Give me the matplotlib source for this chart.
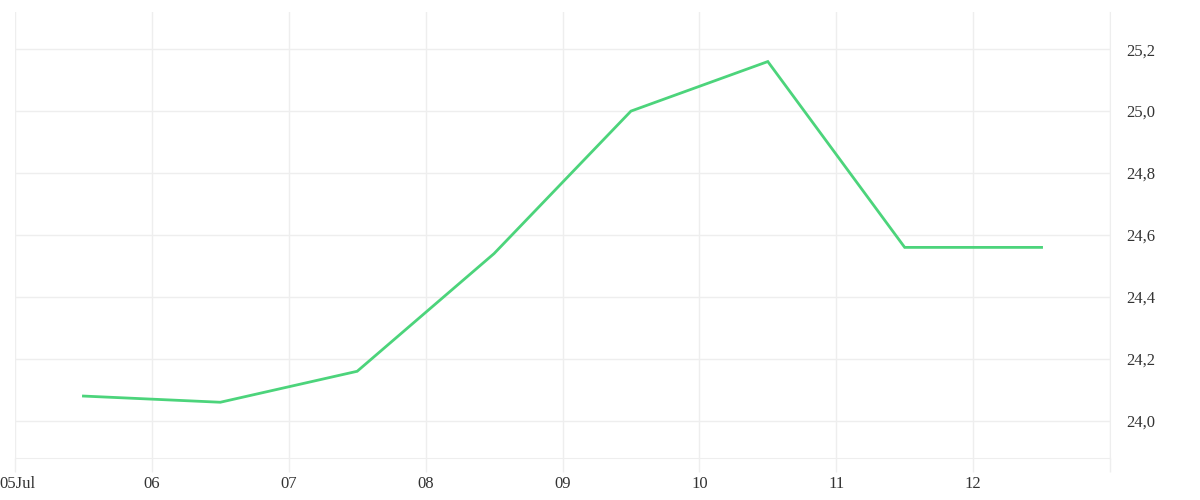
import matplotlib
matplotlib.use("Agg")
import matplotlib.pyplot as plt
import matplotlib.transforms as mtransforms
import numpy as np

days = [5.5, 6.5, 7.5, 8.5, 9.5, 10.5, 11.5, 12.5]
values = [24.08, 24.06, 24.16, 24.54, 25.00, 25.16, 24.56, 24.56]
xtick_pos = [5, 6, 7, 8, 9, 10, 11, 12, 13]
xtick_labels = ["05Jul", "06", "07", "08", "09", "10", "11", "12", ""]
ytick_pos = [24.0, 24.2, 24.4, 24.6, 24.8, 25.0, 25.2]
ytick_labels = ["24,0", "24,2", "24,4", "24,6", "24,8", "25,0", "25,2"]

grid_c = "#eeeeee"
plt.rcParams['font.family'] = ['Liberation Serif', 'DejaVu Serif']

fig = plt.figure(figsize=(12, 5), dpi=100)
ax = fig.add_axes([15/1200, 42/500, 1095/1200, 446/500])
ax.plot(days, values, color="#4cd47b", lw=2.0, solid_joinstyle="miter")
ax.set_xlim(5, 13)
ax.set_ylim(23.88, 25.32)

ax.set_xticks(xtick_pos)
ax.set_xticklabels(xtick_labels)
ax.set_yticks(ytick_pos)
ax.set_yticklabels(ytick_labels)
ax.yaxis.tick_right()
ax.grid(True, color=grid_c, lw=1)
ax.tick_params(axis='x', length=10, color=grid_c, width=1, pad=3, labelsize=12, labelcolor="#333333")
ax.tick_params(axis='y', length=0, pad=12, labelsize=12, labelcolor="#333333")
for s in ["top", "left"]:
    ax.spines[s].set_visible(False)
ax.spines["bottom"].set_color(grid_c)
ax.spines["right"].set_color(grid_c)
ax.set_axisbelow(True)

# keep the first label fully inside the figure
first = ax.get_xticklabels()[0]
first.set_transform(first.get_transform() + mtransforms.ScaledTranslation(2/100, 0, fig.dpi_scale_trans))

fig.savefig("out.png", dpi=100, facecolor="white")
